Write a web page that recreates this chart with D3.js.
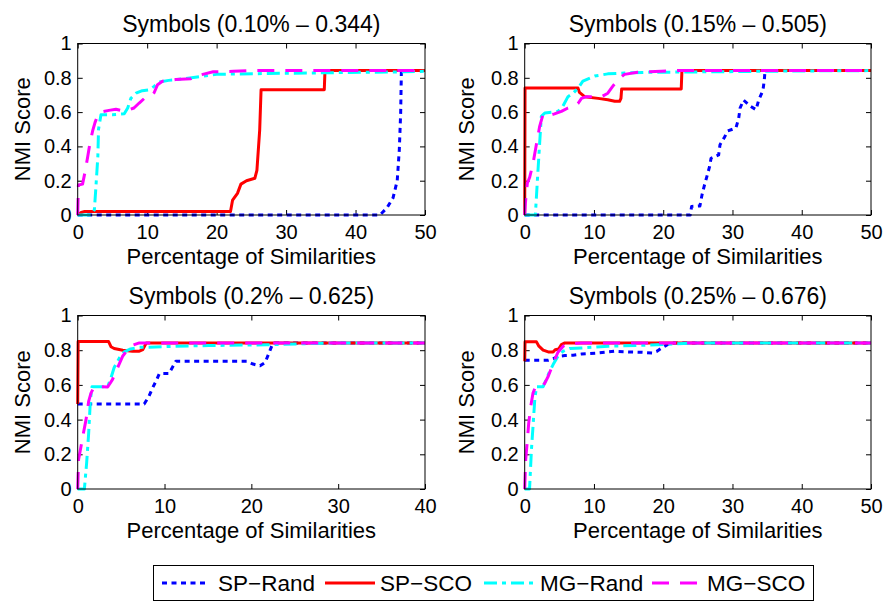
<!DOCTYPE html>
<html>
<head>
<meta charset="utf-8">
<script src="https://cdn.jsdelivr.net/npm/d3@7"></script>
<style>
  html, body { margin: 0; padding: 0; background: #fff; }
  svg { display: block; font-family: "Liberation Sans", Arial, Helvetica, sans-serif; }
</style>
</head>
<body>
<svg id="chart" width="886" height="602"></svg>
<script>
// ---- Data: NMI score vs. percentage of similarities, four symbol settings ----
const seriesNames = ["SP\u2212Rand", "SP\u2212SCO", "MG\u2212Rand", "MG\u2212SCO"];
const panelTitles = [
  "Symbols (0.10% \u2013 0.344)",
  "Symbols (0.15% \u2013 0.505)",
  "Symbols (0.2% \u2013 0.625)",
  "Symbols (0.25% \u2013 0.676)"
];
const panelXMax = [50, 50, 40, 50];
const xTickStep = 10;
const yTicks = [0, 0.2, 0.4, 0.6, 0.8, 1];

// Panel 1: 0.10%
const spRand1 = [[0,0],[43.5,0],[44.5,0.04],[45.4,0.1],[46.0,0.2],[46.3,0.38],[46.5,0.6],[46.6,0.842],[50,0.842]];
const spSco1 = [[0,0],[0.5,0.015],[1,0.02],[22,0.02],[22.3,0.087],[23,0.126],[23.5,0.18],[24.3,0.2],[25.5,0.214],[25.8,0.26],[26.2,0.495],[26.4,0.73],[35.5,0.73],[35.6,0.842],[50,0.842]];
const mgRand1 = [[0,0],[1.9,0],[2.4,0.03],[2.6,0.15],[2.9,0.34],[3.0,0.5],[3.35,0.585],[5,0.585],[6.7,0.59],[7.2,0.624],[7.65,0.68],[8.4,0.71],[9.3,0.725],[10.3,0.73],[11,0.75],[11.7,0.775],[13.1,0.785],[15.5,0.795],[18.2,0.81],[20,0.82],[27,0.825],[37,0.83],[47,0.835],[50,0.838]];
const mgSco1 = [[0,0],[0.1,0.175],[0.7,0.18],[1.1,0.26],[1.44,0.34],[1.77,0.42],[2.15,0.49],[2.5,0.54],[2.87,0.58],[3.35,0.6],[4.5,0.61],[5.5,0.617],[6.5,0.607],[7.2,0.61],[8.1,0.624],[8.85,0.653],[9.6,0.68],[10.5,0.693],[11,0.713],[11.5,0.76],[12.2,0.78],[14.1,0.79],[16.3,0.795],[17,0.81],[18,0.82],[19.5,0.835],[22.4,0.838],[25,0.842],[50,0.842]];

// Panel 2: 0.15%
const spRand2 = [[0,0],[23.9,0],[24.1,0.05],[25.3,0.053],[25.6,0.117],[25.9,0.166],[26.3,0.224],[26.7,0.283],[26.9,0.33],[28,0.35],[28.2,0.41],[28.8,0.45],[29.3,0.49],[30.5,0.507],[30.9,0.565],[31.1,0.624],[31.6,0.67],[32.6,0.634],[33.4,0.614],[33.8,0.672],[34.4,0.727],[34.6,0.79],[34.7,0.842],[50,0.842]];
const spSco2 = [[0,0],[0.05,0.74],[7.7,0.74],[7.9,0.715],[8.65,0.69],[10.6,0.68],[12,0.672],[13,0.663],[13.7,0.663],[13.9,0.68],[14,0.735],[22.6,0.735],[22.7,0.842],[50,0.842]];
const mgRand2 = [[0,0],[1.54,0],[1.83,0.2],[2.16,0.42],[2.4,0.575],[2.9,0.595],[4.8,0.604],[5.5,0.633],[6.25,0.69],[7,0.71],[7.7,0.74],[8.4,0.78],[10.1,0.81],[12,0.823],[14.4,0.828],[17.8,0.832],[27,0.835],[40,0.84],[50,0.842]];
const mgSco2 = [[0,0],[0.1,0.07],[0.38,0.185],[0.72,0.22],[1.2,0.3],[1.68,0.41],[2.16,0.517],[2.64,0.585],[3.37,0.579],[4.3,0.59],[5.3,0.604],[6.25,0.624],[7.2,0.634],[7.7,0.65],[8.2,0.68],[8.9,0.69],[11.1,0.69],[12,0.71],[12.7,0.75],[13.5,0.79],[14.4,0.82],[16.3,0.832],[19.7,0.838],[22,0.842],[50,0.842]];

// Panel 3: 0.2%
const spRand3 = [[0,0.49],[7.66,0.49],[8.2,0.534],[8.6,0.58],[9.1,0.63],[9.4,0.665],[10.5,0.665],[10.9,0.7],[11.3,0.736],[19.5,0.736],[20.2,0.72],[21,0.71],[21.6,0.73],[22,0.78],[22.3,0.818],[22.5,0.842],[40,0.842]];
const spSco3 = [[0,0.49],[0.05,0.85],[3.56,0.85],[3.83,0.82],[4.2,0.81],[5.2,0.8],[6.3,0.794],[7.1,0.794],[7.5,0.803],[7.9,0.842],[40,0.842]];
const mgRand3 = [[0,0],[0.77,0],[1.03,0.15],[1.26,0.32],[1.46,0.51],[1.65,0.59],[3.45,0.59],[3.83,0.64],[4.2,0.7],[4.8,0.755],[5.36,0.79],[6.1,0.807],[7.1,0.817],[8.2,0.817],[11.3,0.823],[15.1,0.827],[21.8,0.831],[25.6,0.837],[30,0.842],[40,0.842]];
const mgSco3 = [[0,0],[0.1,0.17],[0.38,0.245],[0.65,0.32],[0.96,0.4],[1.26,0.505],[1.53,0.553],[1.9,0.59],[3.45,0.588],[4,0.63],[4.6,0.7],[5.17,0.765],[5.75,0.803],[6.3,0.828],[7.1,0.842],[40,0.842]];

// Panel 4: 0.25%
const spRand4 = [[0,0.742],[3.4,0.742],[4.1,0.75],[4.8,0.765],[5.8,0.769],[7,0.771],[8.2,0.778],[10.6,0.784],[13,0.794],[15,0.79],[16.9,0.788],[18.4,0.784],[19.1,0.794],[19.8,0.813],[20.3,0.825],[21,0.842],[50,0.842]];
const spSco4 = [[0,0.736],[0.05,0.848],[1.7,0.848],[2.05,0.823],[2.66,0.8],[3.4,0.79],[4.1,0.79],[4.4,0.803],[4.9,0.807],[5.3,0.832],[5.8,0.842],[50,0.842]];
const mgRand4 = [[0,0],[0.7,0],[0.97,0.225],[1.2,0.36],[1.45,0.514],[1.7,0.59],[2.66,0.59],[3.1,0.63],[3.6,0.678],[4.1,0.717],[4.8,0.765],[5.55,0.794],[6.5,0.81],[8.2,0.813],[12.1,0.823],[17.9,0.829],[21.9,0.837],[25,0.842],[50,0.842]];
const mgSco4 = [[0,0],[0.14,0.168],[0.39,0.283],[0.58,0.38],[0.87,0.476],[1.2,0.553],[1.55,0.588],[2.4,0.588],[2.9,0.61],[3.4,0.65],[3.86,0.697],[4.35,0.746],[4.8,0.788],[5.55,0.823],[6.3,0.836],[8.2,0.842],[50,0.842]];

const panelSeries = [
  [spRand1, spSco1, mgRand1, mgSco1],
  [spRand2, spSco2, mgRand2, mgSco2],
  [spRand3, spSco3, mgRand3, mgSco3],
  [spRand4, spSco4, mgRand4, mgSco4]
];

// ---- Styles ----
const seriesStyle = [
  { color: "#0000ff", dash: "5,4.5" },      // dotted
  { color: "#ff0000", dash: null },         // solid
  { color: "#00ffff", dash: "13,5,4,5" },   // dash-dot
  { color: "#ff00ff", dash: "17,11" }       // dashed
];

// ---- Layout ----
const panelBoxes = [
  { left: 77.7,  right: 425, top: 43.5,  bottom: 215, ylabOff: 55 },
  { left: 524.7, right: 871, top: 43.5,  bottom: 215, ylabOff: 58 },
  { left: 77.7,  right: 425, top: 315.5, bottom: 489, ylabOff: 55 },
  { left: 524.7, right: 871, top: 315.5, bottom: 489, ylabOff: 58 }
];

const svg = d3.select("#chart");
const tickFont = 20, labelFont = 22, titleFont = 23;

panelBoxes.forEach((b, i) => {
  const w = b.right - b.left, h = b.bottom - b.top;
  const x = d3.scaleLinear().domain([0, panelXMax[i]]).range([0, w]);
  const y = d3.scaleLinear().domain([0, 1]).range([h, 0]);
  const xTicks = d3.range(0, panelXMax[i] + 0.001, xTickStep);

  const g = svg.append("g").attr("transform", `translate(${b.left},${b.top})`);

  g.append("clipPath").attr("id", "clip" + i)
    .append("rect").attr("x", -2).attr("y", -2).attr("width", w + 4).attr("height", h + 4);

  // inward ticks on all four sides
  const axB = d3.axisBottom(x).tickValues(xTicks).tickSize(-5).tickSizeOuter(0).tickFormat(d3.format("d"));
  const axT = d3.axisTop(x).tickValues(xTicks).tickSize(-5).tickSizeOuter(0).tickFormat("");
  const axL = d3.axisLeft(y).tickValues(yTicks).tickSize(-5).tickSizeOuter(0).tickPadding(6).tickFormat(d3.format("~g"));
  const axR = d3.axisRight(y).tickValues(yTicks).tickSize(-5).tickSizeOuter(0).tickFormat("");

  const gb = g.append("g").attr("transform", `translate(0,${h})`).call(axB);
  const gt = g.append("g").call(axT);
  const gl = g.append("g").call(axL);
  const gr = g.append("g").attr("transform", `translate(${w},0)`).call(axR);
  [gb, gt, gl, gr].forEach(a => {
    a.select(".domain").remove();
    a.selectAll(".tick line").attr("stroke", "#000").attr("stroke-width", 1);
    a.selectAll("text").attr("font-size", tickFont).attr("font-family", null).attr("fill", "#000");
  });
  gb.selectAll("text").attr("dy", null).attr("y", 24);

  // data lines
  const line = d3.line().x(d => x(d[0])).y(d => y(d[1]));
  const lines = g.append("g").attr("clip-path", `url(#clip${i})`);
  panelSeries[i].forEach((data, k) => {
    lines.append("path")
      .datum(data)
      .attr("d", line)
      .attr("fill", "none")
      .attr("stroke", seriesStyle[k].color)
      .attr("stroke-width", 3)
      .attr("stroke-linejoin", "round")
      .attr("stroke-dasharray", seriesStyle[k].dash);
  });

  // axes box
  g.append("rect").attr("x", 0).attr("y", 0).attr("width", w).attr("height", h)
    .attr("fill", "none").attr("stroke", "#000").attr("stroke-width", 1);

  // title
  g.append("text").attr("x", w / 2).attr("y", -12)
    .attr("text-anchor", "middle").attr("font-size", titleFont).text(panelTitles[i]);

  // x label
  g.append("text").attr("x", w / 2).attr("y", h + 48.5)
    .attr("text-anchor", "middle").attr("font-size", labelFont).text("Percentage of Similarities");

  // y label
  g.append("text")
    .attr("transform", `translate(${-b.ylabOff},${h / 2}) rotate(-90)`)
    .attr("text-anchor", "middle").attr("dy", "0.35em")
    .attr("font-size", labelFont).text("NMI Score");
});

// ---- Legend ----
const legend = svg.append("g");
legend.append("rect").attr("x", 153.5).attr("y", 565.5).attr("width", 660).attr("height", 35)
  .attr("fill", "#fff").attr("stroke", "#000").attr("stroke-width", 1);
const legendItems = [
  { x1: 162, x2: 209, tx: 218 },
  { x1: 325, x2: 375, tx: 380 },
  { x1: 484, x2: 533, tx: 540 },
  { x1: 652, x2: 698, tx: 707 }
];
legendItems.forEach((it, k) => {
  legend.append("line").attr("x1", it.x1).attr("x2", it.x2).attr("y1", 583).attr("y2", 583)
    .attr("stroke", seriesStyle[k].color).attr("stroke-width", 3)
    .attr("stroke-dasharray", seriesStyle[k].dash);
  legend.append("text").attr("x", it.tx).attr("y", 591)
    .attr("font-size", 22.5).text(seriesNames[k]);
});
</script>
</body>
</html>
